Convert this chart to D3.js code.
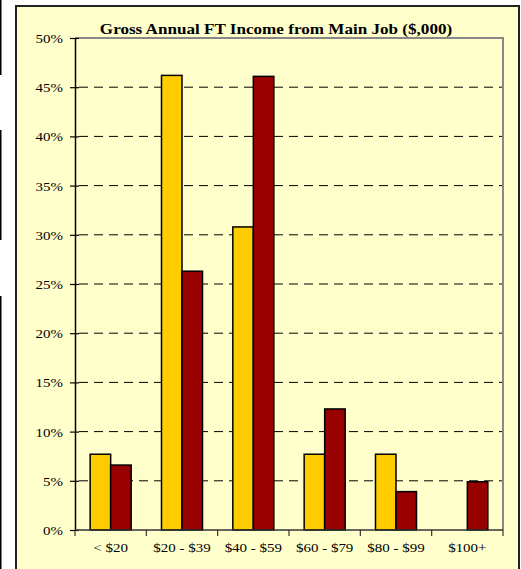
<!DOCTYPE html>
<html><head><meta charset="utf-8">
<script src="https://cdn.jsdelivr.net/npm/d3@7"></script>
<style>html,body{margin:0;padding:0;background:#fff;}svg{display:block;}</style>
</head><body>
<svg id="c" width="521" height="569"></svg>
<script>
const categories = ["< $20", "$20 - $39", "$40 - $59", "$60 - $79", "$80 - $99", "$100+"];
const seriesA = [7.7, 46.2, 30.8, 7.7, 7.7, 0];
const seriesB = [6.6, 26.3, 46.1, 12.3, 3.9, 4.9];
const yTicks = [0, 5, 10, 15, 20, 25, 30, 35, 40, 45, 50];
const title = "Gross Annual FT Income from Main Job ($,000)";

const svg = d3.select("#c");
const font = "'Liberation Serif','Times New Roman',serif";
const SX = 1.11;

// left edge artifacts
[[0,75],[130,240],[296,569]].forEach(([a,b]) =>
  svg.append("rect").attr("x",0).attr("y",a).attr("width",1.5).attr("height",b-a).attr("fill","#000"));

// outer frame
svg.append("rect").attr("x",16).attr("y",6).attr("width",503).attr("height",570)
  .attr("fill","#FFFFCC").attr("stroke","#222").attr("stroke-width",2);

const L = 75, R = 503, T = 38, B = 530;
const x = d3.scaleBand().domain(categories).range([L, R]);
const y = d3.scaleLinear().domain([0, 50]).range([B, T]);
const inner = d3.scaleBand().domain(["a","b"]).range([0, x.bandwidth()*0.575]);
const off = (x.bandwidth() - x.bandwidth()*0.575)/2;

// gridlines
svg.append("g").selectAll("line").data(yTicks.filter(t => t > 0 && t < 50)).join("line")
  .attr("x1", L+4).attr("x2", R).attr("y1", d => y(d)).attr("y2", d => y(d))
  .attr("stroke", "#000").attr("stroke-width", 1).attr("stroke-dasharray", "9,6");

// plot border top/right
svg.append("path").attr("d", `M${L},${T}H${R}V${B}`).attr("fill","none")
  .attr("stroke","#888").attr("stroke-width",2);

// bars
const g = svg.append("g");
categories.forEach((c, i) => {
  [["a", seriesA[i], "#FFCC00"], ["b", seriesB[i], "#990000"]].forEach(([k, v, col]) => {
    if (v <= 0) return;
    g.append("rect")
      .attr("x", x(c) + off + inner(k))
      .attr("y", y(v))
      .attr("width", inner.bandwidth())
      .attr("height", y(0) - y(v))
      .attr("fill", col).attr("stroke", "#000").attr("stroke-width", 1.5);
  });
});

// y axis
const yAxis = d3.axisLeft(y).tickValues(yTicks).tickSize(0).tickFormat(d => d + "%");
const ya = svg.append("g").attr("transform", `translate(${L},0)`).call(yAxis);
ya.select(".domain").attr("stroke", "#000").attr("stroke-width", 1.5);
ya.selectAll(".tick line").remove();
ya.selectAll(".tick").append("line").attr("x1", -5).attr("x2", 4).attr("stroke", "#000").attr("stroke-width",1.2);
ya.selectAll(".tick text").attr("x", null).attr("dy", null)
  .attr("transform", `translate(-12,4.5) scale(${SX},1)`)
  .attr("font-family", font).attr("font-size", 13.5).attr("fill", "#000");

// x axis
const xa = svg.append("g").attr("transform", `translate(0,${B})`);
xa.append("line").attr("x1", L).attr("x2", R).attr("stroke", "#333").attr("stroke-width", 1.5);
const bounds = categories.map(c => x(c)).concat([x(categories[categories.length-1]) + x.bandwidth()]);
xa.selectAll("line.tk").data(bounds).join("line").attr("class","tk")
  .attr("x1", d => d).attr("x2", d => d).attr("y1", 0).attr("y2", 6)
  .attr("stroke", "#333").attr("stroke-width", 1.2);
xa.selectAll("text").data(categories).join("text")
  .attr("transform", d => `translate(${x(d) + x.bandwidth()/2},${22}) scale(${SX},1)`)
  .attr("text-anchor", "middle").attr("font-family", font).attr("font-size", 13.5)
  .attr("fill", "#000").text(d => d);

// title
svg.append("text").attr("transform", `translate(276,34) scale(1.14,1)`).attr("text-anchor", "middle")
  .attr("font-family", font).attr("font-size", 15).attr("font-weight", "bold")
  .attr("fill", "#000").text(title);
</script>
</body></html>
